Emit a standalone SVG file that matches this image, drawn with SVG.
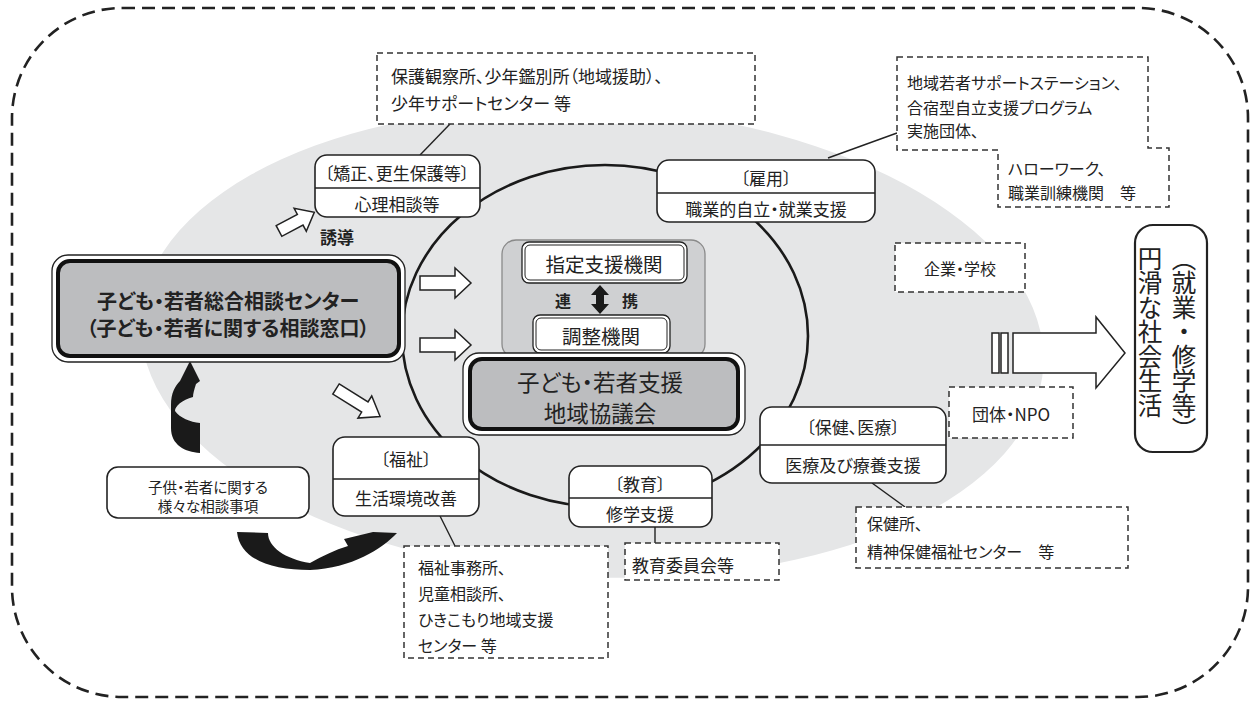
<svg xmlns="http://www.w3.org/2000/svg" width="1252" height="704" viewBox="0 0 1252 704">
<defs>
<style>
text{font-family:"Noto Sans CJK JP","Noto Sans",sans-serif;fill:#222;}
.b{font-weight:bold;}
.p{font-feature-settings:"palt" 1;}
.t16{font-size:17px;}
.t15{font-size:16px;}
.mid{text-anchor:middle;dominant-baseline:central;}
.lft{dominant-baseline:central;}
.node{fill:#fff;stroke:#222;stroke-width:1.6;}
.div{stroke:#222;stroke-width:1.4;}
.dash{fill:#fff;stroke:#333;stroke-width:1.5;stroke-dasharray:6 4;}
.conn{stroke:#222;stroke-width:1.4;fill:none;}
.blk{fill:#fff;stroke:#222;stroke-width:1.5;stroke-linejoin:miter;}
.dark{fill:#1a1a1a;stroke:none;}
</style>
</defs>

<!-- outer dashed frame -->
<rect x="12" y="8" width="1236" height="689" rx="110" ry="110" fill="none" stroke="#222" stroke-width="2.6" stroke-dasharray="13 7"/>

<!-- gray background ellipse -->
<ellipse cx="592" cy="342" rx="452" ry="235" fill="#e5e6e7" transform="rotate(3 592 342)"/>

<!-- inner circle -->
<ellipse cx="605" cy="336" rx="203" ry="171" fill="none" stroke="#1a1a1a" stroke-width="2.6"/>

<!-- connectors -->
<g id="connectors">
<line class="conn" x1="450" y1="124" x2="420" y2="155"/>
<line class="conn" x1="828" y1="158" x2="897" y2="133"/>
<line class="conn" x1="440" y1="516" x2="455" y2="546"/>
<line class="conn" x1="655" y1="527" x2="655" y2="543"/>
<line class="conn" x1="872" y1="483" x2="905" y2="507"/>
<!-- white block arrows -->
<path class="blk" d="M420 276 L455 276 L455 268 L471 283 L455 298 L455 290 L420 290 Z"/>
<path class="blk" d="M420 338 L455 338 L455 330 L471 345 L455 360 L455 352 L420 352 Z"/>
<path class="blk" transform="translate(336 389) rotate(32)" d="M0 -6 L34 -6 L34 -13 L52 0 L34 13 L34 6 L0 6 Z"/>
<path class="blk" transform="translate(279 231) rotate(-28)" d="M0 -6 L24 -6 L24 -13 L40 0 L24 13 L24 6 L0 6 Z"/>
<!-- big arrow to social life -->
<rect class="blk" x="992" y="333" width="7" height="40"/>
<rect class="blk" x="1001" y="333" width="7" height="40"/>
<path class="blk" d="M1013 333 L1096 333 L1096 317 L1125 353 L1096 388 L1096 373 L1013 373 Z"/>
<!-- black curved arrows -->
<path class="dark" d="M190 361 L200 381 L196 384 C194 390 193 394 193 397 C182 400 175 406 175 411 C180 418 190 422 200 423 L200 453 C185 452 171 445 171 428 L171 405 C171 393 175 386 180 381 Z"/>
<path class="dark" d="M237 532 L268 533 C268 547 285 559 310 563 C322 556 335 550 348 546 L344 539 L373 532 L397 533 C382 549 352 568 310 570 C272 570 240 560 237 532 Z"/>
</g>

<!-- top dashed box -->
<g id="n-hogo">
<rect class="dash" x="377" y="53" width="378" height="71"/>
<text class="t16 lft p" x="391" y="75">保護観察所、少年鑑別所（地域援助）、</text>
<text class="t16 lft p" x="391" y="102">少年サポートセンター 等</text>
</g>

<!-- kyosei node -->
<g id="n-kyosei">
<rect class="node" x="315" y="155" width="165" height="62" rx="12"/>
<line class="div" x1="315" y1="188" x2="480" y2="188"/>
<text class="t16 mid p" x="397" y="172">〔矯正、更生保護等〕</text>
<text class="t16 mid p" x="397" y="203">心理相談等</text>
</g>

<text id="t-yudo" class="t16 lft p b" x="320" y="236">誘導</text>

<!-- koyo node -->
<g id="n-koyo">
<rect class="node" x="657" y="160" width="218" height="62" rx="12"/>
<line class="div" x1="657" y1="193" x2="875" y2="193"/>
<text class="t16 mid p" x="766" y="177">〔雇用〕</text>
<text class="t16 mid p" x="766" y="208">職業的自立・就業支援</text>
</g>

<!-- top right dashed box -->
<g id="n-wakamono">
<path class="dash" d="M897 57 L1148 57 L1148 148 L1169 148 L1169 207 L998 207 L998 150 L897 150 Z"/>
<text class="t15 lft p" x="907" y="82">地域若者サポートステーション、</text>
<text class="t15 lft p" x="907" y="107">合宿型自立支援プログラム</text>
<text class="t15 lft p" x="907" y="130">実施団体、</text>
<text class="t15 lft p" x="1008" y="168">ハローワーク、</text>
<text class="t15 lft p" x="1008" y="192">職業訓練機関　等</text>
</g>

<!-- kigyo -->
<g id="n-kigyo">
<rect class="dash" x="895" y="243" width="130" height="49"/>
<text class="t15 mid p" x="960" y="268">企業・学校</text>
</g>

<!-- NPO -->
<g id="n-npo">
<rect class="dash" x="949" y="387" width="124" height="51"/>
<text class="t16 mid p" x="1011" y="413">団体・NPO</text>
</g>

<!-- social life -->
<g id="n-social">
<rect x="1135" y="225" width="72" height="227" rx="18" fill="#fff" stroke="#222" stroke-width="2.2"/>
<text x="1184" y="246" font-size="24.5" style="writing-mode:vertical-rl">（就業・修学等）</text>
<text x="1150" y="246" font-size="24.5" style="writing-mode:vertical-rl">円滑な社会生活</text>
</g>

<!-- main center -->
<g id="n-center">
<rect x="52" y="255" width="353" height="107" rx="16" fill="#fff" stroke="#222" stroke-width="1.3"/>
<rect x="58" y="261" width="341" height="95" rx="12" fill="#bcbdbf" stroke="#111" stroke-width="4"/>
<text class="mid p b" x="228" y="300" font-size="20">子ども・若者総合相談センター</text>
<text class="mid p b" x="228" y="327" font-size="20">（子ども・若者に関する相談窓口）</text>
</g>

<!-- coordination panel -->
<g id="n-panel">
<rect x="502" y="240" width="203" height="118" rx="14" fill="#cfd0d2" stroke="#8a8a8a" stroke-width="1.3"/>
<text class="mid b" x="563" y="300" font-size="16">連</text>
<text class="mid b" x="630" y="300" font-size="16">携</text>
<path class="dark" d="M600 285 L609 295 L604 295 L604 304 L609 304 L600 314 L591 304 L596 304 L596 295 L591 295 Z"/>
</g>
<g id="n-shitei">
<rect x="522" y="242" width="165" height="41" rx="7" fill="#fff" stroke="#222" stroke-width="1.3"/>
<rect x="525" y="245" width="159" height="35" rx="5" fill="none" stroke="#222" stroke-width="1"/>
<text class="mid" x="604" y="263" font-size="19.5">指定支援機関</text>
</g>
<g id="n-chosei">
<rect x="533" y="315" width="137" height="38" rx="7" fill="#fff" stroke="#222" stroke-width="1.3"/>
<rect x="536" y="318" width="131" height="32" rx="5" fill="none" stroke="#222" stroke-width="1"/>
<text class="mid" x="601" y="335" font-size="19.5">調整機関</text>
</g>

<!-- council -->
<g id="n-council">
<rect x="463" y="353" width="282" height="82" rx="16" fill="#fff" stroke="#222" stroke-width="1.3"/>
<rect x="470" y="359" width="268" height="70" rx="12" fill="#bcbdbf" stroke="#111" stroke-width="4"/>
<text class="mid p" x="600" y="381" font-size="22.5">子ども・若者支援</text>
<text class="mid p" x="600" y="412" font-size="22.5">地域協議会</text>
</g>

<!-- various consultations -->
<g id="n-soudan">
<rect class="node" x="107" y="467" width="202" height="51" rx="11"/>
<text class="mid p" x="208" y="486" font-size="14.5">子供・若者に関する</text>
<text class="mid p" x="208" y="505" font-size="14.5">様々な相談事項</text>
</g>

<!-- fukushi node -->
<g id="n-fukushi">
<rect class="node" x="333" y="437" width="146" height="79" rx="12"/>
<line class="div" x1="333" y1="479" x2="479" y2="479"/>
<text class="t16 mid p" x="406" y="458">〔福祉〕</text>
<text class="t16 mid p" x="406" y="497">生活環境改善</text>
</g>

<!-- fukushi dashed -->
<g id="n-fukushi-org">
<rect class="dash" x="404" y="546" width="204" height="112"/>
<text class="t15 lft p" x="418" y="567">福祉事務所、</text>
<text class="t15 lft p" x="418" y="593">児童相談所、</text>
<text class="t15 lft p" x="418" y="619">ひきこもり地域支援</text>
<text class="t15 lft p" x="418" y="645">センター 等</text>
</g>

<!-- kyoiku node -->
<g id="n-kyoiku">
<rect class="node" x="569" y="466" width="143" height="61" rx="12"/>
<line class="div" x1="569" y1="498" x2="712" y2="498"/>
<text class="t16 mid p" x="640" y="483">〔教育〕</text>
<text class="t16 mid p" x="640" y="513">修学支援</text>
</g>

<g id="n-kyoiku-org">
<rect class="dash" x="625" y="543" width="154" height="37"/>
<text class="t16 lft p" x="632" y="564">教育委員会等</text>
</g>

<!-- hoken node -->
<g id="n-hoken">
<rect class="node" x="760" y="407" width="186" height="76" rx="12"/>
<line class="div" x1="760" y1="445" x2="946" y2="445"/>
<text class="t16 mid p" x="853" y="426">〔保健、医療〕</text>
<text class="t16 mid p" x="853" y="464">医療及び療養支援</text>
</g>

<g id="n-hoken-org">
<rect class="dash" x="856" y="507" width="272" height="61"/>
<text class="t15 lft p" x="867" y="523">保健所、</text>
<text class="t15 lft p" x="867" y="551">精神保健福祉センター　等</text>
</g>
</svg>
